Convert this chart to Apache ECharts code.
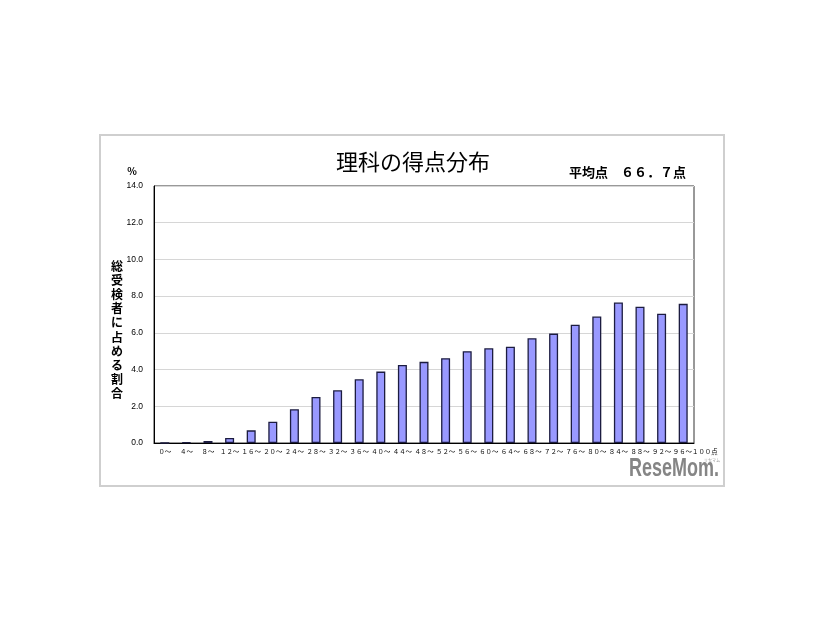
<!DOCTYPE html>
<html>
<head>
<meta charset="utf-8">
<script src="https://cdn.jsdelivr.net/npm/echarts@6/dist/echarts.min.js"></script>
<style>
html, body { margin: 0; padding: 0; background: #fff; }
#chart { width: 826px; height: 620px; }
</style>
</head>
<body>
<div id="chart"></div>
<script>
var categories = ['０～', '４～', '８～', '１２～', '１６～', '２０～', '２４～', '２８～', '３２～', '３６～',
	'４０～', '４４～', '４８～', '５２～', '５６～', '６０～', '６４～', '６８～', '７２～', '７６～',
	'８０～', '８４～', '８８～', '９２～', '９６～'];
var percents = [0.0, 0.03, 0.11, 0.27, 0.69, 1.16, 1.84, 2.51, 2.87, 3.47,
	3.89, 4.25, 4.42, 4.62, 5.00, 5.16, 5.25, 5.71, 5.96, 6.44,
	6.89, 7.65, 7.42, 7.04, 7.58];
var yTicks = [0, 2, 4, 6, 8, 10, 12, 14];
var lastLabelTail = '１００点';
var titleText = '理科の得点分布';
var averageText = '平均点　６６．７点';
var yTitle = '総受検者に占める割合';

var jpFont = '"Noto Sans CJK JP", sans-serif';

var chart = echarts.init(document.getElementById('chart'));
chart.setOption({
	backgroundColor: '#fff',
	animation: false,
	textStyle: { fontFamily: jpFont },
	title: [
		{ text: titleText, left: 'center', top: 146,
			textStyle: { fontSize: 22, fontWeight: 'normal', color: '#000' } },
		{ text: averageText, left: 564, top: 161,
			textStyle: { fontSize: 13, fontWeight: 'bold', color: '#000' } },
		{ text: yTitle.split('').join('\n'), left: 106, top: 254,
			textStyle: { fontSize: 12, fontWeight: 'bold', color: '#000', lineHeight: 14.2 } }
	],
	graphic: [
		{ type: 'rect', shape: { x: 100, y: 135, width: 624, height: 351 },
			style: { fill: null, stroke: '#cfcfcf', lineWidth: 2 }, silent: true },
		// logo
		{ type: 'text', x: 629, y: 457, scaleX: 0.72,
			style: { text: 'ReseMom.', fill: '#858585', fontSize: 25, fontWeight: 'bold',
				fontFamily: '"Liberation Sans", Arial, sans-serif' } },
		{ type: 'text', x: 704, y: 458,
			style: { text: 'リセマム', fill: '#999', fontSize: 4, fontFamily: jpFont } }
	],
	grid: { left: 154, top: 186, right: 132, bottom: 177, show: true,
		borderColor: '#333', borderWidth: 1 },
	xAxis: {
		type: 'category',
		data: categories,
		axisTick: { show: false },
		axisLine: { lineStyle: { color: '#000', width: 1 } },
		axisLabel: {
			interval: 0, margin: 5, fontSize: 6.4, color: '#000',
			formatter: function (v, i) {
				if (i === categories.length - 1) return '{last|' + v + lastLabelTail + '}';
				return v;
			},
			rich: { last: { fontSize: 6.4, color: '#000', padding: [0, 0, 0, 24] } }
		}
	},
	yAxis: {
		type: 'value',
		min: yTicks[0], max: yTicks[yTicks.length - 1], interval: 2,
		name: '%', nameLocation: 'end', nameGap: 10,
		nameTextStyle: { fontSize: 10, fontWeight: 'bold', color: '#000', align: 'right', padding: [0, 17, 0, 0] },
		axisLine: { show: true, lineStyle: { color: '#000', width: 1 } },
		axisTick: { show: false },
		axisLabel: { margin: 11, fontSize: 8.5, color: '#000', fontFamily: '"Liberation Sans", Arial, sans-serif',
			formatter: function (v) { return v.toFixed(1); } },
		splitLine: { lineStyle: { color: '#d6d6d6', width: 1 } }
	},
	series: [{
		type: 'bar',
		data: percents,
		barWidth: 9,
		itemStyle: { color: '#9999ff', borderColor: '#1c1c40', borderWidth: 1.3 }
	}]
});
</script>
</body>
</html>
